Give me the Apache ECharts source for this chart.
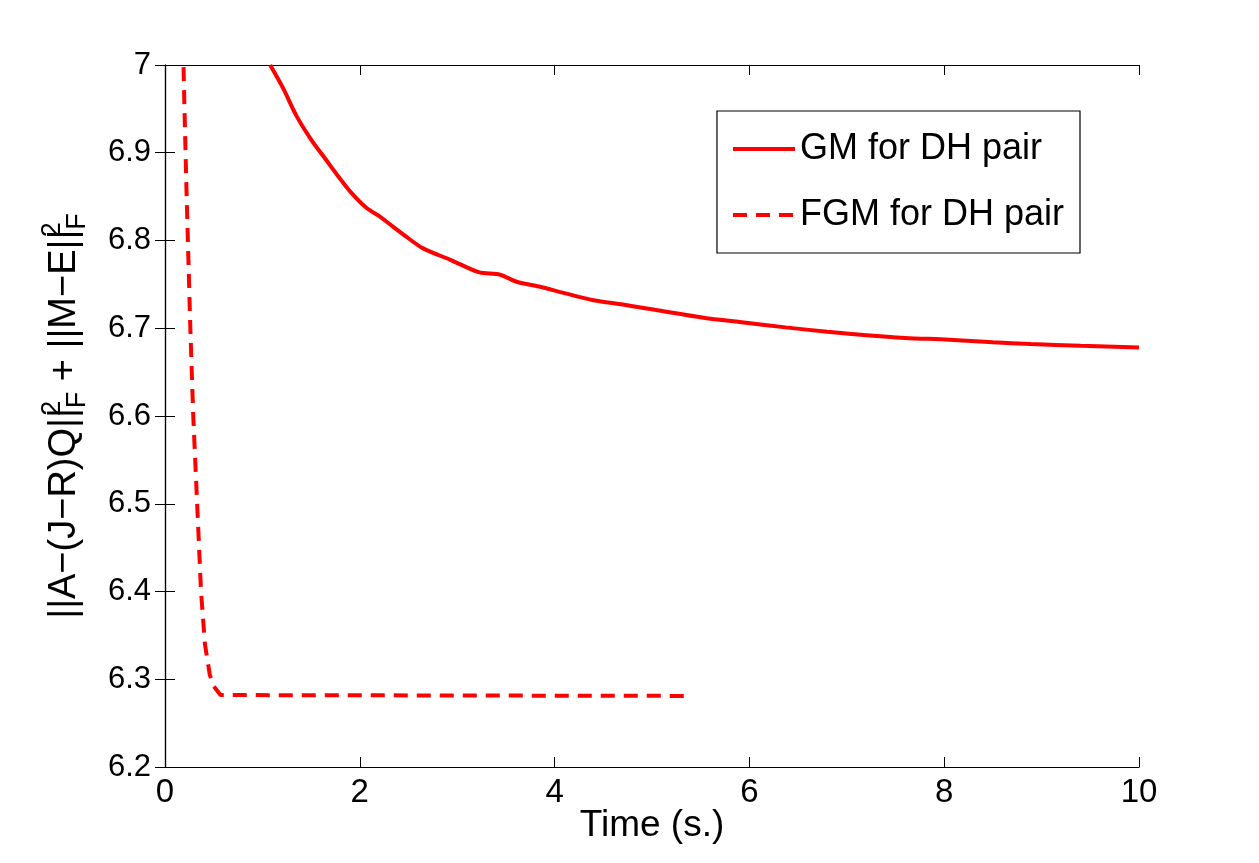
<!DOCTYPE html>
<html lang="en">
<head>
  <meta charset="UTF-8">
  <title>GM vs FGM</title>
  <script src="https://cdn.jsdelivr.net/npm/echarts@6/dist/echarts.min.js"></script>
  <style>
    html, body { margin: 0; padding: 0; background: #fff; }
    #chart { width: 1259px; height: 863px; }
  </style>
</head>
<body>
<div id="chart"></div>
<script>
  // GM 曲线（实线），读图估计
  var gmData = [
    [1.08, 7.0], [1.215, 6.973], [1.35, 6.942], [1.5, 6.915], [1.64, 6.894],
    [1.78, 6.873], [1.9, 6.856], [2.07, 6.837], [2.21, 6.827], [2.35, 6.815],
    [2.48, 6.804], [2.65, 6.791], [2.93, 6.778], [3.22, 6.764], [3.44, 6.761],
    [3.61, 6.753], [3.86, 6.747], [4.1, 6.74], [4.4, 6.732], [4.7, 6.727],
    [5.03, 6.721], [5.53, 6.712], [5.9, 6.707], [6.37, 6.701], [6.8, 6.696],
    [7.2, 6.692], [7.6, 6.689], [8.05, 6.687], [8.5, 6.684], [8.89, 6.682],
    [9.4, 6.68], [10.0, 6.678]
  ];
  // FGM 曲线（虚线）
  var fgmData = [
    [0.18, 7.05], [0.2, 6.95], [0.22, 6.86], [0.24, 6.78], [0.26, 6.7],
    [0.29, 6.6], [0.33, 6.5], [0.37, 6.4], [0.41, 6.34], [0.46, 6.305],
    [0.5, 6.292], [0.57, 6.282], [5.35, 6.281]
  ];
  var seriesNames = ['GM for DH pair', 'FGM for DH pair'];
  var xRange = [0, 10];
  var yRange = [6.2, 7];

  var myChart = echarts.init(document.getElementById('chart'));
  var font = 'Liberation Sans';

  var option = {
    backgroundColor: '#fff',
    animation: false,
    grid: { left: 165, right: 120, top: 65, bottom: 96 },
    legend: {
      orient: 'vertical',
      right: 179,
      top: 111,
      itemWidth: 62,
      itemHeight: 14,
      itemGap: 30,
      padding: [20, 16, 20, 14],
      borderColor: '#000',
      borderWidth: 1.2,
      borderRadius: 0,
      itemStyle: { opacity: 0 },
      lineStyle: { width: 4 },
      textStyle: { fontFamily: font, fontSize: 36, color: '#000' },
      data: seriesNames
    },
    xAxis: [{
      type: 'value', min: xRange[0], max: xRange[1], interval: 2,
      name: 'Time (s.)', nameLocation: 'middle', nameGap: 40, nameMoveOverlap: false,
      nameTextStyle: { fontFamily: font, fontSize: 37, color: '#000' },
      axisLine: { show: true, lineStyle: { color: '#000', width: 1.2 } },
      axisTick: { inside: true, length: 10, lineStyle: { color: '#000' } },
      axisLabel: { fontFamily: font, fontSize: 33, color: '#000', margin: 9 },
      splitLine: { show: false }
    }, {
      type: 'value', position: 'top', min: xRange[0], max: xRange[1], interval: 2,
      axisLine: { show: true, lineStyle: { color: '#000', width: 1.2 } },
      axisTick: { inside: true, length: 10, lineStyle: { color: '#000' } },
      axisLabel: { show: false },
      splitLine: { show: false }
    }],
    yAxis: [{
      type: 'value', min: yRange[0], max: yRange[1], interval: 0.1,
      name: '{n|||A\u2212(J\u2212R)Q||}{sup|2}{sub|F}{n| + ||M\u2212E||}{sup|2}{sub|F}',
      nameLocation: 'middle', nameRotate: 90, nameGap: 74, nameMoveOverlap: false,
      nameTextStyle: {
        fontFamily: font, fontSize: 38, color: '#000',
        rich: {
          n: { fontFamily: font, fontSize: 38, color: '#000', lineHeight: 52, verticalAlign: 'middle' },
          sup: { fontFamily: font, fontSize: 27, color: '#000', lineHeight: 52, verticalAlign: 'top', width: 0 },
          sub: { fontFamily: font, fontSize: 27, color: '#000', lineHeight: 52, verticalAlign: 'bottom' }
        }
      },
      axisLine: { show: true, lineStyle: { color: '#000', width: 1.2 } },
      axisTick: { inside: true, length: 10, lineStyle: { color: '#000' } },
      axisLabel: {
        fontFamily: font, fontSize: 31, color: '#000', margin: 14,
        formatter: function (v) { return Math.abs(v - 7) < 1e-9 ? '7' : v.toFixed(1); }
      },
      splitLine: { show: false }
    }, {
      type: 'value', position: 'right', min: yRange[0], max: yRange[1], interval: 0.1,
      axisLine: { show: true, lineStyle: { color: '#000', width: 1.2 } },
      axisTick: { inside: true, length: 10, lineStyle: { color: '#000' } },
      axisLabel: { show: false },
      splitLine: { show: false }
    }],
    series: [{
      name: seriesNames[0],
      type: 'line',
      data: gmData,
      symbol: 'none',
      smooth: 0.3,
      clip: true,
      color: '#ff0000',
      lineStyle: { color: '#ff0000', width: 4 }
    }, {
      name: seriesNames[1],
      type: 'line',
      data: fgmData,
      symbol: 'none',
      clip: true,
      color: '#ff0000',
      lineStyle: { color: '#ff0000', width: 4, type: [14, 9] }
    }]
  };

  option && myChart.setOption(option);
</script>
</body>
</html>
